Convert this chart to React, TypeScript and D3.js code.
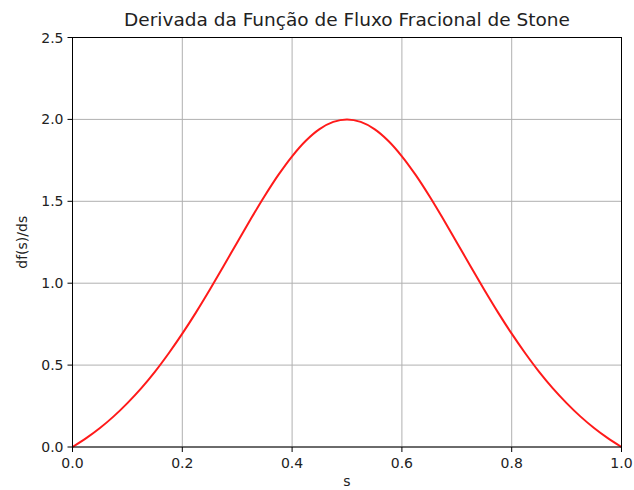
import React from "react";
import * as d3 from "d3";

const sValues = [0, 0.025, 0.05, 0.075, 0.1, 0.125, 0.15, 0.175, 0.2, 0.225, 0.25, 0.275, 0.3, 0.325, 0.35, 0.375, 0.4, 0.425, 0.45, 0.475, 0.5, 0.525, 0.55, 0.575, 0.6, 0.625, 0.65, 0.675, 0.7, 0.725, 0.75, 0.775, 0.8, 0.825, 0.85, 0.875, 0.9, 0.925, 0.95, 0.975, 1.0];
const dfValues = [0, 0.054, 0.116, 0.187, 0.268, 0.358, 0.459, 0.571, 0.692, 0.822, 0.96, 1.103, 1.249, 1.393, 1.532, 1.661, 1.775, 1.87, 1.941, 1.985, 2.0, 1.985, 1.941, 1.87, 1.775, 1.661, 1.532, 1.393, 1.249, 1.103, 0.96, 0.822, 0.692, 0.571, 0.459, 0.358, 0.268, 0.187, 0.116, 0.054, 0];
const xTicks = [0, 0.2, 0.4, 0.6, 0.8, 1.0];
const yTicks = [0, 0.5, 1.0, 1.5, 2.0, 2.5];
const title = "Derivada da Função de Fluxo Fracional de Stone";
const xLabel = "s";
const yLabel = "df(s)/ds";

export default function App() {
  const W = 634, H = 490;
  const left = 72.5, right = 621.5, top = 37.5, bottom = 447;
  const x = d3.scaleLinear().domain([0, 1]).range([left, right]);
  const y = d3.scaleLinear().domain([0, 2.5]).range([bottom, top]);
  const pts = sValues.map((s, i) => [s, dfValues[i]] as [number, number]);
  const line = d3.line<[number, number]>().x(d => x(d[0])).y(d => y(d[1])).curve(d3.curveCatmullRom);
  const font = "DejaVu Sans, sans-serif";
  return (
    <svg width={W} height={H} style={{ position: "absolute", left: 0, top: 0, background: "#fff" }} fontFamily={font}>
      <rect x={0} y={0} width={W} height={H} fill="#fff" />
      {xTicks.map(t => (
        <line key={"gx" + t} x1={x(t)} x2={x(t)} y1={top} y2={bottom} stroke="#b0b0b0" strokeWidth={1} />
      ))}
      {yTicks.map(t => (
        <line key={"gy" + t} x1={left} x2={right} y1={y(t)} y2={y(t)} stroke="#b0b0b0" strokeWidth={1} />
      ))}
      <path d={line(pts) || ""} fill="none" stroke="#ff1a1a" strokeWidth={2} />
      <rect x={left} y={top} width={right - left} height={bottom - top} fill="none" stroke="#000" strokeWidth={1} />
      {xTicks.map(t => (
        <g key={"tx" + t}>
          <line x1={x(t)} x2={x(t)} y1={bottom} y2={bottom + 5} stroke="#000" />
          <text x={x(t)} y={bottom + 21} textAnchor="middle" fontSize={14} fill="#222">{t.toFixed(1)}</text>
        </g>
      ))}
      {yTicks.map(t => (
        <g key={"ty" + t}>
          <line x1={left - 5} x2={left} y1={y(t)} y2={y(t)} stroke="#000" />
          <text x={left - 9} y={y(t) + 5} textAnchor="end" fontSize={14} fill="#222">{t.toFixed(1)}</text>
        </g>
      ))}
      <text x={(left + right) / 2} y={26} textAnchor="middle" fontSize={18.5} fill="#222">{title}</text>
      <text x={(left + right) / 2} y={486} textAnchor="middle" fontSize={14} fill="#222">{xLabel}</text>
      <text transform={`translate(27,${(top + bottom) / 2}) rotate(-90)`} textAnchor="middle" fontSize={14} fill="#222">{yLabel}</text>
    </svg>
  );
}
